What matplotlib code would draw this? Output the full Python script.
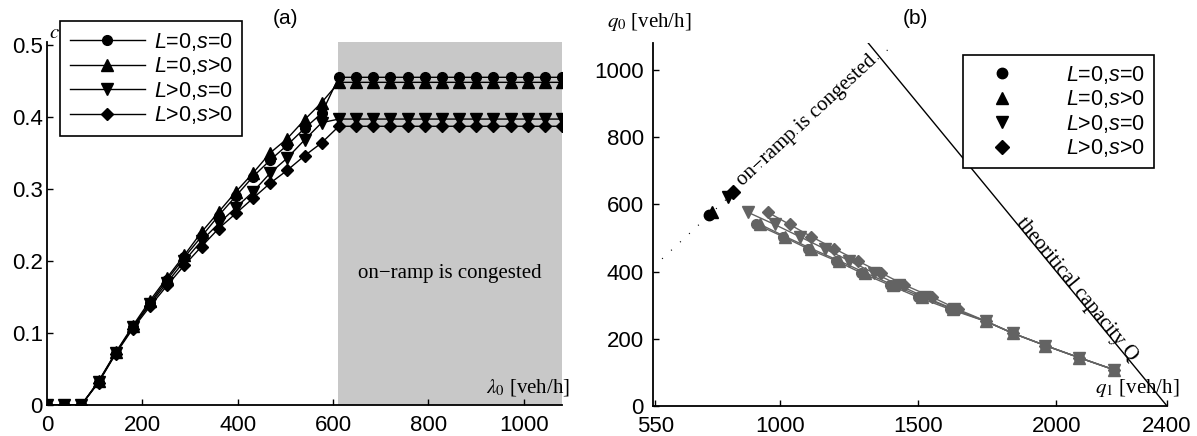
import numpy as np
import matplotlib
matplotlib.use("Agg")
import matplotlib.pyplot as plt

plt.rcParams['font.family'] = ['Liberation Sans', 'DejaVu Sans']
plt.rcParams['mathtext.fontset'] = 'custom'
plt.rcParams['mathtext.rm'] = 'Liberation Sans'
plt.rcParams['mathtext.it'] = 'Liberation Sans:italic'

# ---------------- data: panel (a) ----------------
lam0 = [0, 36, 72, 108, 144, 180, 216, 252, 288, 324, 360, 396, 432, 468, 504, 540, 576,
        612, 648, 684, 720, 756, 792, 828, 864, 900, 936, 972, 1008, 1044, 1080]
c_L0s0 = [0, 0, 0, 0.032, 0.072, 0.108, 0.142, 0.174, 0.205, 0.234, 0.263, 0.290, 0.317, 0.340, 0.361, 0.384, 0.405,
          0.455, 0.455, 0.455, 0.455, 0.455, 0.455, 0.455, 0.455, 0.455, 0.455, 0.455, 0.455, 0.455, 0.455]
c_L0sp = [0, 0, 0, 0.033, 0.073, 0.110, 0.145, 0.177, 0.208, 0.240, 0.268, 0.296, 0.322, 0.350, 0.370, 0.396, 0.420,
          0.448, 0.448, 0.448, 0.448, 0.448, 0.448, 0.448, 0.448, 0.448, 0.448, 0.448, 0.448, 0.448, 0.448]
c_Lps0 = [0, 0, 0, 0.032, 0.072, 0.108, 0.140, 0.170, 0.200, 0.228, 0.252, 0.274, 0.296, 0.322, 0.343, 0.368, 0.392,
          0.397, 0.397, 0.397, 0.397, 0.397, 0.397, 0.397, 0.397, 0.397, 0.397, 0.397, 0.397, 0.397, 0.397]
c_Lpsp = [0, 0, 0, 0.031, 0.071, 0.106, 0.137, 0.166, 0.194, 0.220, 0.245, 0.266, 0.287, 0.308, 0.326, 0.346, 0.364,
          0.387, 0.387, 0.387, 0.387, 0.387, 0.387, 0.387, 0.387, 0.387, 0.387, 0.387, 0.387, 0.387, 0.387]
congested_start = 610
a_xticks = [0, 200, 400, 600, 800, 1000]
a_yticks = [0, 0.1, 0.2, 0.3, 0.4, 0.5]
a_yticklabels = ['0', '0.1', '0.2', '0.3', '0.4', '0.5']

# ---------------- data: panel (b) ----------------
q0_all = [108, 144, 180, 216, 252, 288, 324, 360, 396, 432, 468, 504, 540, 576]
q1_L0s0 = [2208, 2082, 1960, 1844, 1744, 1615, 1499, 1397, 1295, 1204, 1102, 1012, 916]
q1_L0sp = [2208, 2082, 1960, 1844, 1745, 1625, 1515, 1410, 1310, 1215, 1115, 1020, 930]
q1_Lps0 = [2208, 2082, 1960, 1844, 1746, 1630, 1525, 1430, 1340, 1252, 1162, 1072, 982, 886]
q1_Lpsp = [2208, 2082, 1960, 1844, 1747, 1643, 1551, 1451, 1367, 1282, 1198, 1114, 1036, 958]
# congested states (black points)
cong_q1 = [745, 755, 812, 830]
cong_q0 = [568, 578, 622, 636]
# reference lines
ramp_line_q1 = [575, 1404]
ramp_line_q0 = [438, 1070]
cap_line_q1 = [1320, 2400]
cap_line_q0 = [1080, 0]
b_xticks = [550, 1000, 1500, 2000, 2400]
b_yticks = [0, 200, 400, 600, 800, 1000]

labels = [r'$L$=0,$s$=0', r'$L$=0,$s$>0', r'$L$>0,$s$=0', r'$L$>0,$s$>0']
markers = ['o', '^', 'v', 'D']
msizes = [7, 8, 8, 6.5]
gray = '#636363'

fig = plt.figure(figsize=(11.97, 4.36), dpi=100)

def style_axes(ax, ypad):
    for sp in ['top', 'right']:
        ax.spines[sp].set_visible(False)
    for sp in ['left', 'bottom']:
        ax.spines[sp].set_linewidth(1.3)
    ax.tick_params(direction='in', length=4, width=1, labelsize=16)
    ax.tick_params(axis='x', pad=7)
    ax.tick_params(axis='y', pad=ypad)

# ---------------- panel (a) ----------------
axa = fig.add_axes([47 / 1197, 31 / 436, 515 / 1197, 363 / 436])
axa.axvspan(congested_start, 1080, color='#c8c8c8', lw=0, zorder=0)
for y, m, ms, lab in zip([c_L0s0, c_L0sp, c_Lps0, c_Lpsp], markers, msizes, labels):
    axa.plot(lam0, y, color='black', lw=1, marker=m, ms=ms, mfc='black', mec='black', label=lab, zorder=3)
axa.set_xlim(0, 1080)
axa.set_ylim(0, 0.504)
axa.set_xticks(a_xticks)
axa.set_yticks(a_yticks)
axa.set_yticklabels(a_yticklabels)
style_axes(axa, 3)
axa.text(845, 0.183, 'on\u2212ramp is congested', fontsize=15, family='Liberation Serif',
         ha='center', va='center', zorder=4)
axa.text(1.016, 0.02, r'$\lambda_0$ [veh/h]', transform=axa.transAxes, fontsize=15,
         family='Liberation Serif', math_fontfamily='stix', ha='right', va='bottom')
axa.text(0.004, 1.0, r'$c$', transform=axa.transAxes, fontsize=15, math_fontfamily='stix',
         ha='left', va='bottom')
fig.text(285 / 1197, 1 - 18 / 436, '(a)', fontsize=15, ha='center', va='center')
lega = axa.legend(loc='upper left', bbox_to_anchor=(60 / 1197, 1 - 21 / 436), bbox_transform=fig.transFigure,
                  fontsize=15.5, handlelength=3.5, handletextpad=0.4, labelspacing=0.12, borderpad=0.45,
                  fancybox=False, framealpha=1, edgecolor='black', borderaxespad=0)
lega.get_frame().set_linewidth(1.2)

# ---------------- panel (b) ----------------
axb = fig.add_axes([652.7 / 1197, 30 / 436, 514.3 / 1197, 363 / 436])
axb.set_xlim(541, 2400)
axb.set_ylim(0, 1080)
axb.plot(ramp_line_q1, ramp_line_q0, color='black', lw=0.9, ls=(0, (0.8, 9)), zorder=2)
axb.plot(cap_line_q1, cap_line_q0, color='black', lw=1, zorder=2)
for x, m, ms in zip([q1_L0s0, q1_L0sp, q1_Lps0, q1_Lpsp], markers, msizes):
    axb.plot(x, q0_all[:len(x)], color=gray, lw=1, marker=m, ms=ms, mfc=gray, mec=gray, zorder=3)
for i in range(4):
    axb.plot([cong_q1[i]], [cong_q0[i]], ls='none', marker=markers[i], ms=msizes[i] + 0.5, color='black',
             label=labels[i], zorder=4)
axb.set_xticks(b_xticks)
axb.set_yticks(b_yticks)
style_axes(axb, 6.5)

fig.canvas.draw()
def disp_angle(ax, xs, ys):
    p = ax.transData.transform(np.column_stack([xs, ys]))
    return np.degrees(np.arctan2(p[1, 1] - p[0, 1], p[1, 0] - p[0, 0]))
ang_r = disp_angle(axb, ramp_line_q1, ramp_line_q0)
ang_c = disp_angle(axb, cap_line_q1, cap_line_q0)
axb.text(1098, 848, 'on\u2212ramp is congested', fontsize=15, family='Liberation Serif',
         rotation=ang_r, rotation_mode='anchor', ha='center', va='center')
axb.text(2075, 345, r'theoritical capacity Q', fontsize=15, family='Liberation Serif',
         rotation=ang_c, rotation_mode='anchor', ha='center', va='center')
axb.text(1.025, 0.02, r'$q_1$ [veh/h]', transform=axb.transAxes, fontsize=15,
         family='Liberation Serif', math_fontfamily='stix', ha='right', va='bottom')
fig.text(607 / 1197, 1 - 22 / 436, r'$q_0$ [veh/h]', fontsize=15,
         family='Liberation Serif', math_fontfamily='stix', ha='left', va='center')
fig.text(915 / 1197, 1 - 18 / 436, '(b)', fontsize=15, ha='center', va='center')
leg = axb.legend(loc='upper right', bbox_to_anchor=(1154 / 1197, 1 - 55 / 436), bbox_transform=fig.transFigure,
                 fontsize=15.5, handlelength=2.8, handletextpad=1.6, labelspacing=0.12, borderpad=0.4,
                 borderaxespad=0, fancybox=False, framealpha=1, edgecolor='black')
leg.get_frame().set_linewidth(1.2)

fig.savefig('out.png', dpi=100)
